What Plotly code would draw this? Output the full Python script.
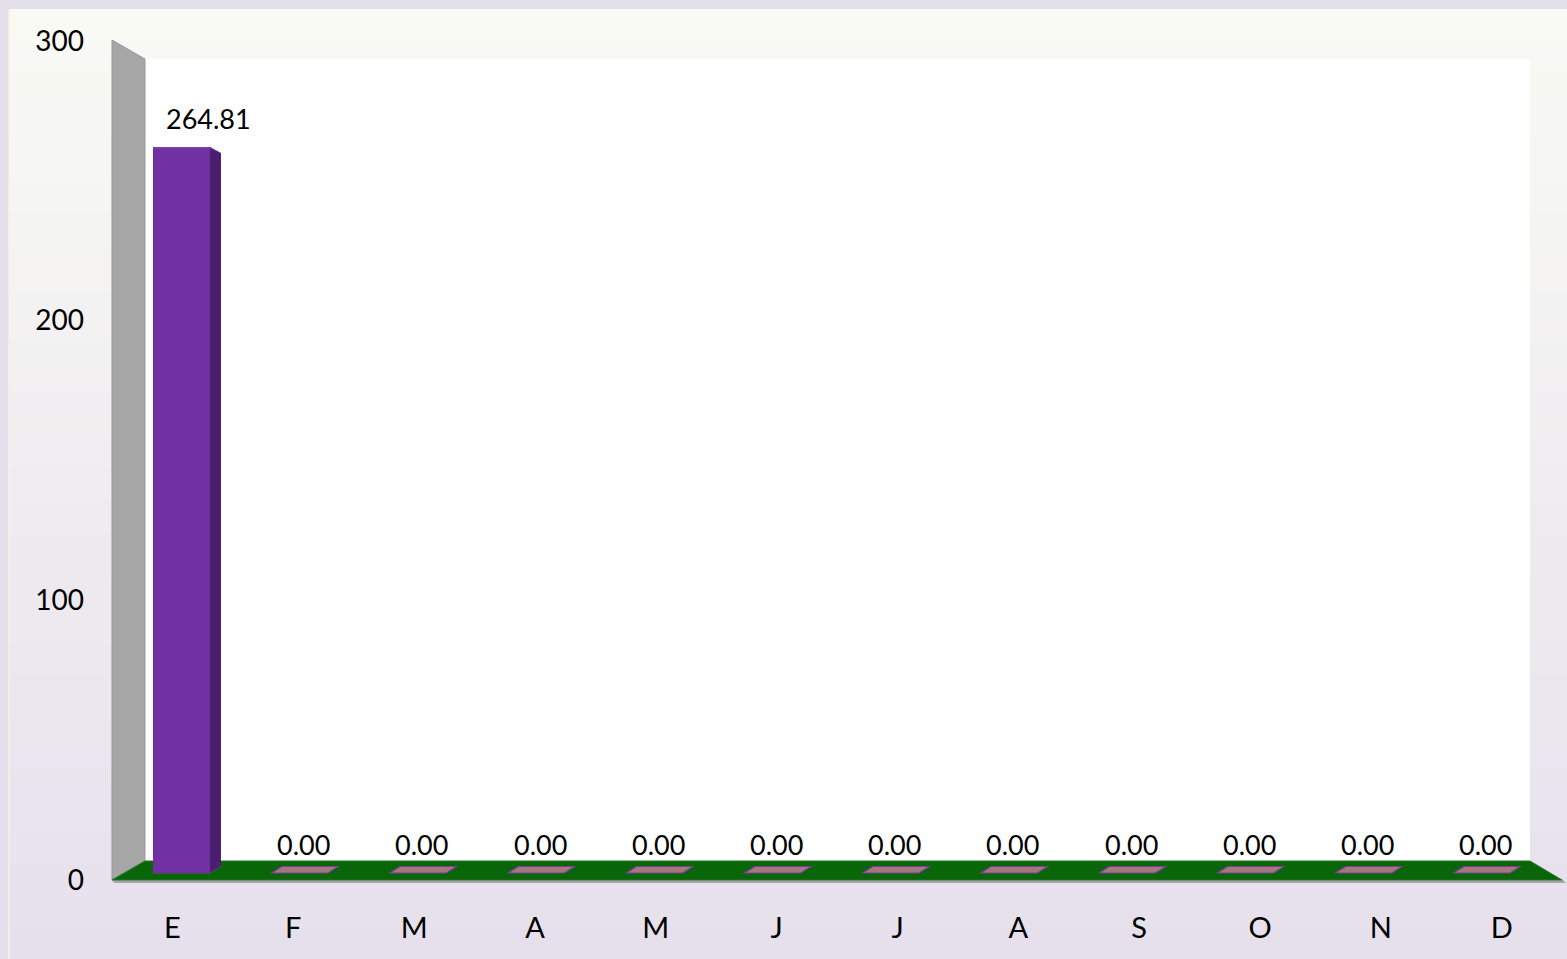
import plotly.graph_objects as go

# ---------------- data ----------------
months = ["E", "F", "M", "A", "M", "J", "J", "A", "S", "O", "N", "D"]
values = [264.81, 0, 0, 0, 0, 0, 0, 0, 0, 0, 0, 0]
y_ticks = [0, 100, 200, 300]

W, H = 1567, 959
FONT = "Lato, 'Open Sans', sans-serif"


def px(x):
    return x / W


def py(y):
    return 1 - y / H


def ppath(points):
    return "M " + " L ".join(f"{px(x):.5f},{py(y):.5f}" for x, y in points) + " Z"


def dpath(points):
    return "M " + " L ".join(f"{x:.4f},{y:.4f}" for x, y in points) + " Z"


idx = list(range(len(months)))
BAR_W = 0.482

fig = go.Figure()

fig.add_trace(go.Bar(
    x=idx, y=values, width=BAR_W,
    marker=dict(color="#7231A3", line=dict(width=0)),
    hoverinfo="skip", xaxis="x", yaxis="y", showlegend=False,
))
# invisible trace to host the front-plane axes
fig.add_trace(go.Scatter(
    x=[0], y=[0], mode="markers", marker=dict(opacity=0),
    xaxis="x2", yaxis="y2", hoverinfo="skip", showlegend=False,
))

shapes = []
# background gradient bands
top_c = (249, 250, 244)
bot_c = (230, 224, 236)
n = 60
y0, y1 = 9, H
for k in range(n):
    t = k / (n - 1)
    c = tuple(round(top_c[j] + (bot_c[j] - top_c[j]) * t) for j in range(3))
    ya = y0 + (y1 - y0) * k / n
    yb = y0 + (y1 - y0) * (k + 1) / n + 1
    shapes.append(dict(type="rect", xref="paper", yref="paper", layer="below",
                       x0=px(9), x1=1, y0=py(min(yb, H)), y1=py(ya),
                       fillcolor=f"rgb{c}", line=dict(width=0)))
# thin cream line at left of panel
shapes.append(dict(type="line", xref="paper", yref="paper", layer="below",
                   x0=px(9), x1=px(9), y0=0, y1=py(9),
                   line=dict(color="#F6F3DF", width=1.5)))
# back wall
shapes.append(dict(type="rect", xref="paper", yref="paper", layer="below",
                   x0=px(145), x1=px(1530), y0=py(861), y1=py(59),
                   fillcolor="white", line=dict(width=0)))
# side wall
shapes.append(dict(type="path", xref="paper", yref="paper", layer="below",
                   path=ppath([(112, 40), (145, 59), (145, 861), (112, 880)]),
                   fillcolor="#A6A6A6", line=dict(color="#999999", width=1)))
# floor shadow
shapes.append(dict(type="path", xref="paper", yref="paper", layer="below",
                   path=ppath([(112, 879), (1562, 879), (1566, 883), (114, 883)]),
                   fillcolor="#A9A7AC", line=dict(width=0)))
# floor
shapes.append(dict(type="path", xref="paper", yref="paper", layer="below",
                   path=ppath([(112, 880), (145, 861), (1530, 861), (1562, 880)]),
                   fillcolor="#086608", line=dict(color="#2A742A", width=1)))

# bar footprints on the floor and 3D side faces (from the data)
for i, v in zip(idx, values):
    shapes.append(dict(type="path", xref="x", yref="y", layer="below",
                       path=dpath([(i - 0.237, 0), (i + 0.24, 0),
                                   (i + 0.325, 2.37), (i - 0.15, 2.37)]),
                       fillcolor="#A4787A", line=dict(color="#7C3E9E", width=1.2)))
    if v > 0:
        shapes.append(dict(type="path", xref="x", yref="y", layer="above",
                           path=dpath([(i + BAR_W / 2, 0), (i + BAR_W / 2, v),
                                       (i + BAR_W / 2 + 0.093, v - 2.19),
                                       (i + BAR_W / 2 + 0.093, 2.55)]),
                           fillcolor="#4B1E70", line=dict(width=0)))
        # slight top highlight
        shapes.append(dict(type="path", xref="x", yref="y", layer="above",
                           path=dpath([(i - BAR_W / 2, v), (i + BAR_W / 2, v),
                                       (i + BAR_W / 2 + 0.093, v - 2.19),
                                       (i + BAR_W / 2, v - 0.6),
                                       (i - BAR_W / 2, v - 0.6)]),
                           fillcolor="#7E3DB0", line=dict(width=0)))

annotations = []
for i, v in zip(idx, values):
    annotations.append(dict(
        x=i, y=v, xref="x", yref="y", text=f"{v:.2f}", showarrow=False,
        yanchor="bottom", yshift=10, xshift=27 if v > 0 else 4,
        font=dict(family=FONT, size=27, color="black"),
    ))

fig.update_layout(
    width=W, height=H,
    margin=dict(l=0, r=0, t=0, b=0),
    paper_bgcolor="#E4DFEC",
    plot_bgcolor="rgba(0,0,0,0)",
    bargap=0,
    shapes=shapes,
    annotations=annotations,
    xaxis=dict(range=[-1.5355, 11.722], domain=[0, 1], visible=False, fixedrange=True),
    yaxis=dict(range=[-31.37, 318.43], domain=[0, 1], visible=False, fixedrange=True),
    xaxis2=dict(range=[-1.4266, 11.540], overlaying="x", anchor="free", position=0.053,
                tickmode="array", tickvals=idx, ticktext=months,
                showgrid=False, zeroline=False, showline=False, ticks="",
                tickfont=dict(family=FONT, size=29, color="black"), fixedrange=True),
    yaxis2=dict(range=[-28.25, 314.66], overlaying="y", anchor="free", side="left",
                position=84 / W, tickmode="array", tickvals=y_ticks,
                ticktext=[str(t) for t in y_ticks],
                showgrid=False, zeroline=False, showline=False, ticks="",
                tickfont=dict(family=FONT, size=28, color="black"), fixedrange=True),
    showlegend=False,
)

fig.write_html(
    "out.html",
    config={"displayModeBar": False},
    post_script="document.body.style.margin='0';document.body.style.padding='0';"
                "document.documentElement.style.overflow='hidden';",
)
